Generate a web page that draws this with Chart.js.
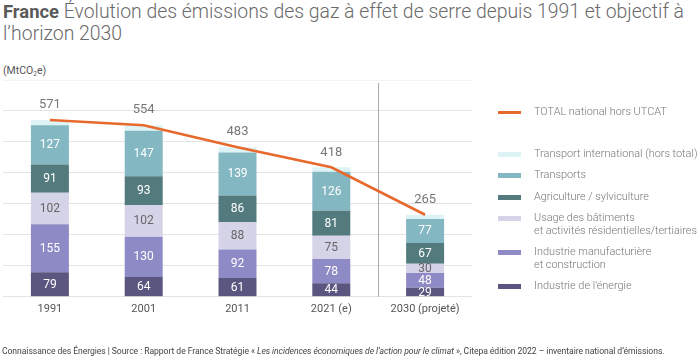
<!DOCTYPE html>
<html><head><meta charset="utf-8">
<script src="https://cdn.jsdelivr.net/npm/chart.js@4.4.0/dist/chart.umd.min.js"></script>
<style>
html,body{margin:0;padding:0;background:#fff;}
body{width:700px;height:357px;position:relative;overflow:hidden;font-family:Roboto,"Noto Sans",sans-serif;}
#title{position:absolute;left:3px;top:1px;font-size:19.4px;line-height:22px;color:#6a6a6a;font-weight:300;white-space:nowrap;}
#title b{font-weight:700;color:#5a5a5a;font-size:18.4px;}
#unit{position:absolute;left:3px;top:64px;font-size:10.5px;color:#555;}
#unit sub{font-size:6.5px;vertical-align:-2px;}
#c{position:absolute;left:0;top:0;}
#legend{position:absolute;left:498px;top:0;width:202px;font-size:10.9px;color:#777;font-weight:300;}
.li{position:absolute;left:0;white-space:nowrap;}
.sw{position:absolute;left:0;width:23px;height:5px;}
.tx{position:absolute;left:36px;line-height:13px;}
#foot{position:absolute;left:2px;top:346px;font-size:8.6px;color:#444;white-space:nowrap;letter-spacing:-0.06px;}
</style></head><body>
<div id="title"><b>France</b> Évolution des émissions des gaz à effet de serre depuis 1991 et objectif à<br>l’horizon 2030</div>
<div id="unit">(MtCO<sub>2</sub>e)</div>
<canvas id="c" width="700" height="357"></canvas>
<div id="legend"></div>
<div id="foot">Connaissance des Énergies | Source : Rapport de France Stratégie « <i>Les incidences économiques de l’action pour le climat</i> », Citepa édition 2022 – inventaire national d’émissions.</div>
<script>
const categories = ["1991","2001","2011","2021 (e)","2030 (projeté)"];
const energie = [79,64,61,44,29];
const manufacturiere = [155,130,92,78,48];
const batiments = [102,102,88,75,30];
const agriculture = [91,93,86,81,67];
const transports = [127,147,139,126,77];
const international = [17,18,17,14,14];
const total = [571,554,483,418,265];
const yTicks = [0,100,200,300,400,500,600,700];

const names = ["Industrie de l'énergie","Industrie manufacturière\net construction","Usage des bâtiments\net activités résidentielles/tertiaires","Agriculture / sylviculture","Transports","Transport international (hors total)"];
const colors = ["#5a5680","#8e8ac6","#d5d3e8","#537a7c","#83b7c1","#def3f5"];
const labelColors = ["#fff","#fff","#666","#fff","#fff",null];
const series = [energie,manufacturiere,batiments,agriculture,transports,international];

const datasets = series.map((s,i)=>({type:'bar',label:names[i],data:s,backgroundColor:colors[i],stack:'s',order:1,
  categoryPercentage:1,barPercentage:0.405,borderWidth:0}));
datasets.push({type:'line',label:'TOTAL national hors UTCAT',data:total,borderColor:'#e8692c',borderWidth:2.6,pointRadius:0,tension:0,stack:'t',order:0});

const labelsPlugin={id:'lbl',
  afterDatasetsDraw(chart){
    const ctx=chart.ctx;ctx.save();
    ctx.textAlign='center';ctx.textBaseline='middle';
    ctx.font='12px Roboto';
    for(let d=0;d<5;d++){
      const meta=chart.getDatasetMeta(d);
      meta.data.forEach((el,i)=>{
        ctx.fillStyle=labelColors[d];
        ctx.fillText(String(series[d][i]),el.x,(el.y+el.base)/2+0.5);
      });
    }
    const top=chart.getDatasetMeta(5);
    ctx.font='13px Roboto';ctx.fillStyle='#777';
    top.data.forEach((el,i)=>{ctx.fillText(String(total[i]),el.x,el.y-15);});
    ctx.restore();
  },
  beforeDatasetsDraw(chart){
    const ctx=chart.ctx, x=chart.scales.x;
    const xs=(x.getPixelForValue(3)+x.getPixelForValue(4))/2;
    ctx.save();ctx.strokeStyle='#aaa';ctx.lineWidth=1;
    ctx.beginPath();ctx.moveTo(Math.round(xs)+0.5,83);ctx.lineTo(Math.round(xs)+0.5,chart.chartArea.bottom);ctx.stroke();
    ctx.restore();
  }
};

new Chart(document.getElementById('c'),{
  data:{labels:categories,datasets},
  options:{responsive:false,animation:false,
    layout:{padding:{left:3,right:228,top:80,bottom:35}},
    plugins:{legend:{display:false},tooltip:{enabled:false}},
    scales:{
      x:{stacked:true,grid:{display:false,drawTicks:false},border:{display:false},
        ticks:{color:'#555',font:{family:'Roboto',size:11},padding:6}},
      y:{stacked:true,min:0,max:700,afterBuildTicks(a){a.ticks=yTicks.map(v=>({value:v}));},
        ticks:{display:false},border:{display:false},
        grid:{drawTicks:false,color:c=>c.tick.value===700?'#f4f4f4':'#e4e4e4',lineWidth:1}}
    }
  },
  plugins:[labelsPlugin]
});

// legend
const lg=document.getElementById('legend');
function addItem(top,sw,text,isLine){
  const d=document.createElement('div');d.className='li';d.style.top=top+'px';
  const s=document.createElement('div');s.className='sw';
  if(isLine){s.style.height='3px';s.style.top='-1.5px';}else{s.style.top='-2.5px';}
  s.style.background=sw;
  const t=document.createElement('div');t.className='tx';t.style.top='-7px';t.innerHTML=text.replace('\n','<br>');
  d.appendChild(s);d.appendChild(t);lg.appendChild(d);
}
addItem(112,'#e8692c','TOTAL national hors UTCAT',true);
const legTops=[286,252,218,197,175,154];
for(let i=5;i>=0;i--) addItem(legTops[i],colors[i],names[i],false);
</script>
</body></html>
